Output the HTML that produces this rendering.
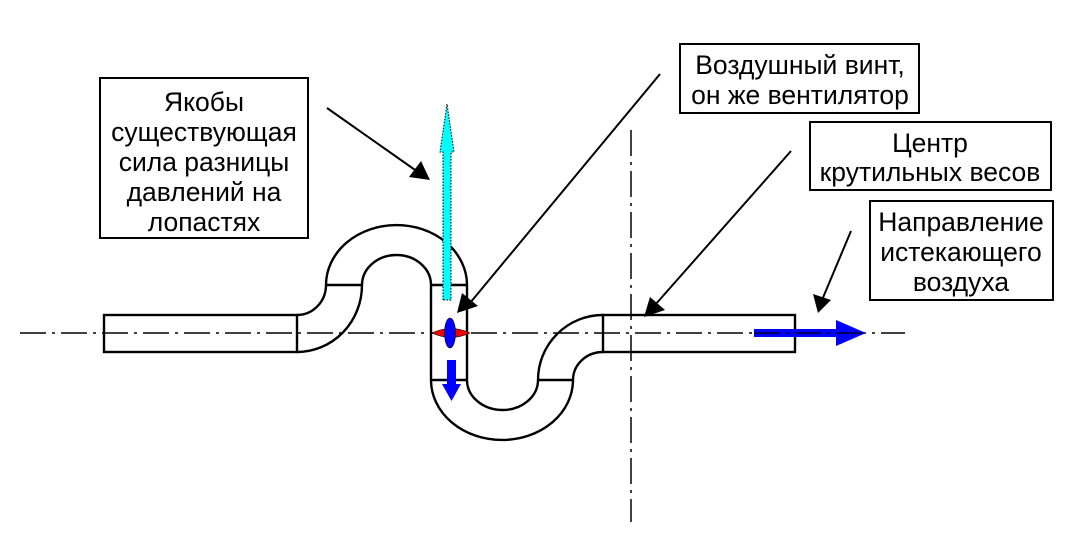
<!DOCTYPE html>
<html><head><meta charset="utf-8"><style>
html,body{margin:0;padding:0;background:#fff}
svg{display:block}
text{font-family:"Liberation Sans",sans-serif;font-size:26.5px;fill:#000}
</style></head><body>
<svg width="1081" height="536" viewBox="0 0 1081 536" xmlns="http://www.w3.org/2000/svg">
<g stroke="#000" stroke-width="1.5" fill="none">
<line x1="20" y1="333" x2="905" y2="333" stroke-dasharray="26,6,3,6"/>
<line x1="631" y1="130" x2="631" y2="522" stroke-dasharray="26,6,3,6"/>
</g>
<g stroke="#000" stroke-width="2.4" fill="none">
<rect x="104" y="315" width="193" height="37"/>
<rect x="603" y="315" width="192" height="37"/>
<path d="M297,315 A29,30 0 0 0 326,285"/>
<path d="M297,352 A65,67 0 0 0 362,285"/>
<line x1="326" y1="285" x2="362" y2="285"/>
<path d="M326,285 A70.5,60 0 0 1 467,285"/>
<path d="M362,285 A34.5,30 0 0 1 431,285"/>
<line x1="431" y1="285" x2="431" y2="380"/>
<line x1="467" y1="285" x2="467" y2="380"/>
<line x1="431" y1="285" x2="467" y2="285"/>
<line x1="431" y1="380" x2="467" y2="380"/>
<path d="M431,380 A71,60 0 0 0 573,380"/>
<path d="M467,380 A35.5,30 0 0 0 538,380"/>
<line x1="538" y1="380" x2="573" y2="380"/>
<path d="M538,380 A65,65 0 0 1 603,315"/>
<path d="M573,380 A30,28 0 0 1 603,352"/>
</g>
<path d="M443,300 L443,152 L440,152 L447,104 L454,152 L451,152 L451,300 Z" fill="#00ffff" stroke="#000" stroke-width="1" stroke-dasharray="1.5,1.5"/>
<path d="M432,333 Q451,324 470,333 Q451,342 432,333 Z" fill="#e00" stroke="#000" stroke-width="0.6"/>
<ellipse cx="450" cy="333" rx="5.5" ry="15" fill="#0000ff" stroke="#000" stroke-width="0.6"/>
<path d="M447,360 L456,360 L456,384 L461,384 L451.5,401 L442,384 L447,384 Z" fill="#0000ff"/>
<path d="M754,329 L836,329 L836,320 L866,333 L836,346 L836,337 L754,337 Z" fill="#0000ff"/>
<line x1="754" y1="333" x2="866" y2="333" stroke="#000" stroke-width="1.2" stroke-dasharray="26,6,3,6"/>
<g stroke="#000" stroke-width="2">
<line x1="327" y1="108" x2="418" y2="172"/>
<line x1="660" y1="74" x2="470" y2="303"/>
<line x1="791" y1="151" x2="655" y2="305"/>
<line x1="851" y1="231" x2="822" y2="300"/>
</g>
<g fill="#000">
<path d="M430,180 L409,177 L421,161 Z"/>
<path d="M457,313 L462,293 L478,306 Z"/>
<path d="M644,317 L650,297 L665,310 Z"/>
<path d="M818,313 L813,294 L831,300 Z"/>
</g>
<g fill="#fff" stroke="#000" stroke-width="2">
<rect x="100" y="78" width="208" height="160"/>
<rect x="680" y="44" width="239" height="69"/>
<rect x="810" y="122" width="241" height="68"/>
<rect x="870" y="201" width="183" height="99"/>
</g>
<g text-anchor="middle">
<text x="204" y="111">Якобы</text>
<text x="204" y="141">существующая</text>
<text x="204" y="171">сила разницы</text>
<text x="204" y="201">давлений на</text>
<text x="204" y="231">лопастях</text>
<text x="800" y="74">Воздушный винт,</text>
<text x="800" y="104">он же вентилятор</text>
<text x="930" y="152">Центр</text>
<text x="930" y="181">крутильных весов</text>
<text x="961" y="231">Направление</text>
<text x="961" y="261">истекающего</text>
<text x="961" y="291">воздуха</text>
</g>
</svg>
</body></html>
